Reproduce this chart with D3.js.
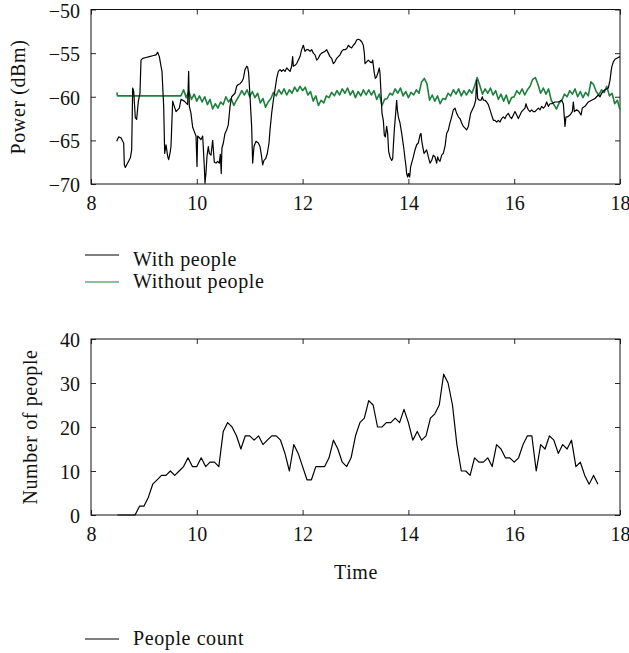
<!DOCTYPE html>
<html lang="en">
<head>
<meta charset="UTF-8">
<title>Received power and people count</title>
<script src="https://d3js.org/d3.v7.min.js"></script>
<style>
  body { margin: 0; background: #fff; }
  svg { display: block; font-family: "Liberation Serif", "Times New Roman", serif; }
  .lbl { font-family: "Liberation Serif", "Times New Roman", serif; font-size: 20px; letter-spacing: 0.6px; fill: #111; }
  .tick-lbl { font-family: "Liberation Serif", "Times New Roman", serif; font-size: 20px; fill: #111; }
</style>
</head>
<body>
<svg id="chart" width="629" height="653"></svg>
<script>
// ---- data ----
const timeTicks = [8, 10, 12, 14, 16, 18];
const powerTicks = [-70, -65, -60, -55, -50];
const countTicks = [0, 10, 20, 30, 40];

// received power with people present, [hour, dBm]
const withPeople = [
  [8.485,-65.1],[8.523,-64.6],[8.567,-64.7],[8.599,-65.1],[8.618,-65.3],[8.630,-67.8],[8.649,-68.1],
  [8.693,-67.6],[8.744,-67.0],[8.769,-66.1],[8.788,-59.0],[8.807,-59.4],[8.838,-62.4],[8.863,-62.6],
  [8.895,-60.5],[8.926,-59.6],[8.945,-55.8],[8.977,-55.6],[9.040,-55.5],[9.103,-55.4],[9.166,-55.3],
  [9.229,-55.2],[9.260,-54.9],[9.292,-55.4],[9.323,-56.5],[9.342,-57.1],[9.374,-61.1],[9.393,-66.5],
  [9.418,-65.5],[9.449,-66.8],[9.468,-67.2],[9.493,-66.5],[9.512,-65.7],[9.544,-60.5],[9.575,-61.1],
  [9.607,-61.7],[9.638,-61.5],[9.670,-61.3],[9.701,-60.3],[9.764,-60.5],[9.796,-60.7],[9.827,-60.9],
  [9.846,-57.1],[9.859,-61.1],[9.890,-61.9],[9.922,-63.5],[9.953,-64.0],[9.985,-64.5],[10.004,-68.0],
  [10.016,-64.5],[10.048,-64.7],[10.079,-64.9],[10.111,-64.5],[10.142,-68.0],[10.155,-69.9],[10.174,-68.7],
  [10.193,-66.8],[10.218,-65.7],[10.237,-66.5],[10.268,-66.7],[10.300,-65.0],[10.331,-67.5],[10.363,-67.6],
  [10.394,-67.4],[10.426,-67.6],[10.445,-66.6],[10.462,-68.8],[10.475,-65.9],[10.502,-65.3],[10.533,-64.2],
  [10.565,-63.8],[10.596,-63.2],[10.628,-61.1],[10.659,-60.0],[10.690,-59.8],[10.722,-59.6],[10.753,-58.8],
  [10.785,-58.6],[10.817,-58.5],[10.848,-58.3],[10.880,-57.9],[10.911,-56.9],[10.943,-56.5],[10.961,-56.6],
  [10.980,-57.3],[11.006,-60.0],[11.037,-63.4],[11.056,-67.6],[11.081,-65.7],[11.119,-65.1],[11.163,-65.3],
  [11.195,-65.7],[11.226,-66.9],[11.245,-67.8],[11.270,-67.3],[11.302,-67.1],[11.333,-66.5],[11.365,-65.3],
  [11.384,-63.8],[11.415,-61.9],[11.447,-60.4],[11.478,-59.2],[11.510,-57.9],[11.541,-57.1],[11.573,-56.9],
  [11.604,-57.1],[11.636,-56.9],[11.667,-57.1],[11.699,-56.7],[11.730,-56.9],[11.762,-57.1],[11.793,-56.5],
  [11.812,-55.4],[11.825,-56.5],[11.856,-56.4],[11.888,-56.2],[11.951,-55.4],[11.982,-54.6],[12.014,-54.1],
  [12.045,-54.8],[12.077,-54.6],[12.108,-54.6],[12.140,-54.8],[12.171,-54.6],[12.203,-55.0],[12.235,-55.2],
  [12.266,-55.8],[12.297,-55.6],[12.329,-55.2],[12.360,-55.0],[12.392,-54.9],[12.423,-54.8],[12.455,-54.6],
  [12.486,-55.0],[12.518,-55.4],[12.549,-55.6],[12.581,-56.2],[12.612,-56.0],[12.644,-55.6],[12.675,-55.4],
  [12.707,-55.2],[12.738,-54.8],[12.770,-54.6],[12.801,-54.6],[12.833,-54.5],[12.864,-54.1],[12.896,-54.3],
  [12.927,-54.4],[12.959,-54.1],[12.990,-53.9],[13.022,-53.5],[13.054,-53.4],[13.085,-53.5],[13.117,-53.7],
  [13.148,-54.1],[13.167,-55.0],[13.180,-56.2],[13.211,-56.0],[13.242,-55.8],[13.274,-56.0],[13.306,-56.1],
  [13.325,-55.8],[13.337,-56.4],[13.356,-57.3],[13.375,-57.9],[13.400,-57.7],[13.432,-57.1],[13.450,-56.7],
  [13.463,-57.3],[13.482,-59.6],[13.501,-61.9],[13.526,-62.7],[13.545,-64.4],[13.564,-64.6],[13.589,-63.4],
  [13.608,-64.2],[13.627,-66.3],[13.652,-66.9],[13.684,-67.3],[13.703,-67.1],[13.715,-65.7],[13.734,-63.8],
  [13.759,-61.9],[13.778,-60.4],[13.791,-61.5],[13.810,-62.3],[13.841,-63.0],[13.873,-64.2],[13.892,-65.0],
  [13.917,-66.1],[13.936,-67.1],[13.955,-68.0],[13.967,-68.8],[13.986,-69.2],[14.005,-68.8],[14.024,-69.2],
  [14.043,-68.0],[14.062,-67.6],[14.093,-66.9],[14.125,-66.1],[14.156,-65.5],[14.188,-65.3],[14.219,-64.4],
  [14.238,-64.2],[14.251,-65.0],[14.270,-65.7],[14.295,-66.5],[14.320,-66.3],[14.345,-66.1],[14.377,-66.9],
  [14.408,-67.6],[14.440,-67.3],[14.471,-66.7],[14.503,-66.9],[14.534,-67.6],[14.553,-66.9],[14.572,-67.2],
  [14.597,-67.4],[14.629,-66.7],[14.660,-66.5],[14.692,-65.7],[14.723,-64.2],[14.755,-63.8],[14.786,-63.0],
  [14.818,-62.3],[14.849,-61.5],[14.881,-61.3],[14.912,-61.9],[14.944,-62.3],[14.975,-62.5],[15.007,-63.0],
  [15.038,-63.4],[15.070,-63.6],[15.101,-63.8],[15.133,-63.4],[15.152,-62.7],[15.177,-61.9],[15.208,-61.5],
  [15.240,-61.1],[15.272,-60.4],[15.290,-58.1],[15.309,-60.2],[15.341,-60.4],[15.372,-60.4],[15.398,-60.0],
  [15.417,-60.4],[15.448,-60.4],[15.479,-60.6],[15.511,-60.9],[15.543,-61.5],[15.574,-62.1],[15.606,-62.7],
  [15.637,-62.7],[15.668,-62.9],[15.700,-62.7],[15.732,-62.9],[15.763,-62.5],[15.795,-62.3],[15.826,-62.5],
  [15.858,-62.1],[15.889,-61.9],[15.921,-62.3],[15.952,-62.5],[15.984,-62.1],[16.015,-61.7],[16.047,-62.1],
  [16.078,-62.5],[16.110,-62.1],[16.141,-61.7],[16.173,-61.5],[16.204,-61.3],[16.223,-60.8],[16.236,-61.1],
  [16.267,-61.5],[16.299,-61.7],[16.330,-61.5],[16.362,-61.7],[16.393,-61.7],[16.425,-61.5],[16.456,-61.3],
  [16.488,-61.5],[16.519,-61.1],[16.551,-61.3],[16.582,-61.1],[16.614,-60.6],[16.645,-61.1],[16.677,-60.8],
  [16.708,-60.8],[16.771,-60.6],[16.834,-60.6],[16.897,-60.4],[16.929,-60.8],[16.960,-63.4],[16.979,-62.3],
  [17.011,-62.3],[17.055,-62.1],[17.099,-61.7],[17.118,-60.6],[17.137,-61.7],[17.181,-61.5],[17.225,-61.7],
  [17.263,-62.1],[17.288,-61.3],[17.338,-61.1],[17.401,-60.6],[17.464,-60.4],[17.527,-60.2],[17.590,-59.8],
  [17.622,-60.0],[17.653,-59.6],[17.716,-59.2],[17.779,-59.0],[17.811,-58.1],[17.843,-56.6],[17.874,-56.0],
  [17.905,-55.7],[17.968,-55.5],[18.000,-55.4]
];

// received power without people: flat start, then sampled every 0.05 h from 9.70 h
const withoutStart = [[8.49,-59.5],[8.50,-59.9]];
const withoutT0 = 9.70, withoutStep = 0.05;
const withoutPeople = [
  -59.9,-59.2,-60.1,-59.4,-60.3,-59.7,-60.5,-59.9,-60.6,-60.0,
  -60.9,-60.3,-61.4,-60.8,-61.3,-60.6,-60.9,-60.0,-60.6,-60.2,
  -61.0,-60.4,-59.9,-59.3,-59.8,-59.2,-60.0,-59.4,-60.1,-59.6,
  -60.7,-60.2,-61.2,-60.6,-60.2,-59.5,-59.9,-59.2,-59.7,-59.1,
  -59.8,-59.2,-59.6,-58.9,-59.4,-58.8,-59.3,-58.9,-59.8,-59.4,
  -60.5,-59.9,-61.0,-60.4,-60.7,-59.9,-60.1,-59.5,-59.9,-59.3,
  -59.8,-59.1,-59.6,-59.0,-59.8,-59.3,-60.1,-59.4,-59.9,-59.2,
  -59.8,-59.2,-59.8,-59.3,-60.3,-59.7,-61.0,-60.3,-60.2,-59.6,
  -59.8,-59.1,-59.6,-59.0,-59.9,-59.4,-60.1,-59.5,-59.8,-59.2,
  -59.6,-58.3,-57.9,-58.5,-60.4,-59.8,-60.5,-59.9,-60.8,-60.2,
  -60.3,-59.6,-59.9,-59.2,-59.7,-59.1,-59.9,-59.3,-59.8,-59.2,
  -59.6,-58.8,-57.8,-58.7,-59.7,-59.1,-59.6,-59.0,-59.8,-59.3,
  -60.3,-59.7,-60.5,-59.8,-60.8,-60.1,-60.0,-59.3,-59.7,-59.1,
  -59.8,-59.2,-58.8,-58.0,-57.8,-58.6,-59.6,-59.0,-59.7,-59.1,
  -60.4,-60.9,-61.4,-60.7,-60.4,-59.7,-60.0,-59.3,-59.7,-59.1,
  -60.0,-59.4,-60.1,-59.5,-59.9,-58.3,-58.6,-59.4,-59.8,-59.2,
  -59.5,-58.8,-59.9,-59.6,-60.8,-60.4,-61.5
];

// people count, every 5 minutes from 8.5 h
const countT0 = 8.5, countStep = 5 / 60;
const peopleCount = [
  0,0,0,0,0,2,2,4,7,8,9,9,10,9,10,11,13,11,11,13,
  11,12,12,11,19,21,20,18,15,18,18,17,18,16,17,18,18,17,14,10,
  16,14,11,8,8,11,11,11,13,17,15,12,11,13,18,21,22,26,25,20,
  20,21,21,22,21,24,21,17,19,17,18,22,23,25,32,30,25,16,10,10,
  9,13,12,12,13,11,16,15,13,13,12,13,16,18,18,10,16,15,18,17,
  14,16,15,17,11,12,9,7,9,7
];

const GREEN = "#1c803c";

const svg = d3.select("#chart");
svg.append("rect").attr("width", 629).attr("height", 653).attr("fill", "#fff");

const x = d3.scaleLinear().domain([8, 18]).range([91, 620]);
const yPow = d3.scaleLinear().domain([-70, -50]).range([184, 9.5]);
const yCnt = d3.scaleLinear().domain([0, 40]).range([515, 339]);

function panel(y, yTicks) {
  const top = y.range()[1], bottom = y.range()[0];
  const g = svg.append("g");

  const styleAxis = a => {
    a.attr("font-family", null).attr("font-size", null);
    a.select(".domain").remove();
    a.selectAll("line").attr("stroke", "#111").attr("stroke-width", 0.9);
    a.selectAll("text").attr("class", "tick-lbl");
  };

  g.append("g").attr("transform", `translate(0,${bottom})`)
    .call(d3.axisBottom(x).tickValues(timeTicks).tickSize(-5).tickPadding(12).tickFormat(d3.format("d")))
    .call(styleAxis);
  g.append("g").attr("transform", `translate(0,${top})`)
    .call(d3.axisTop(x).tickValues(timeTicks).tickSize(-5).tickFormat(""))
    .call(styleAxis);
  g.append("g").attr("transform", `translate(${x.range()[0]},0)`)
    .call(d3.axisLeft(y).tickValues(yTicks).tickSize(-5).tickPadding(11).tickFormat(d3.format("d")))
    .call(styleAxis)
    .selectAll("text").attr("dy", "0.38em");
  g.append("g").attr("transform", `translate(${x.range()[1]},0)`)
    .call(d3.axisRight(y).tickValues(yTicks).tickSize(-5).tickFormat(""))
    .call(styleAxis);

  g.append("rect")
    .attr("x", x.range()[0]).attr("y", top)
    .attr("width", x.range()[1] - x.range()[0]).attr("height", bottom - top)
    .attr("fill", "none").attr("stroke", "#111").attr("stroke-width", 1);
  return g;
}

// ---- top panel: power ----
const gTop = panel(yPow, powerTicks);
const powLine = d3.line().x(d => x(d[0])).y(d => yPow(d[1]));

const quietSeries = withoutStart.concat(withoutPeople.map((v, i) => [withoutT0 + i * withoutStep, v]));

gTop.append("path").datum(quietSeries)
  .attr("d", powLine).attr("fill", "none")
  .attr("stroke", GREEN).attr("stroke-width", 1.6).attr("stroke-linejoin", "round");
gTop.append("path").datum(withPeople)
  .attr("d", powLine).attr("fill", "none")
  .attr("stroke", "#000").attr("stroke-width", 1.2).attr("stroke-linejoin", "round");

svg.append("text").attr("class", "lbl")
  .attr("transform", "translate(25,97) rotate(-90)")
  .attr("text-anchor", "middle").text("Power (dBm)");

// ---- bottom panel: people ----
const gBot = panel(yCnt, countTicks);
gBot.append("path")
  .datum(peopleCount.map((v, i) => [countT0 + i * countStep, v]))
  .attr("d", d3.line().x(d => x(d[0])).y(d => yCnt(d[1])))
  .attr("fill", "none").attr("stroke", "#000").attr("stroke-width", 1.2)
  .attr("stroke-linejoin", "round");

svg.append("text").attr("class", "lbl")
  .attr("transform", "translate(37,427) rotate(-90)")
  .attr("text-anchor", "middle").text("Number of people");

svg.append("text").attr("class", "lbl")
  .attr("x", 356).attr("y", 579).attr("text-anchor", "middle").text("Time");

// ---- legends ----
const legends = [
  { label: "With people", color: "#000", ly: 255, ty: 266 },
  { label: "Without people", color: GREEN, ly: 282, ty: 288 },
  { label: "People count", color: "#000", ly: 639, ty: 645 }
];
legends.forEach(l => {
  svg.append("line").attr("x1", 85).attr("x2", 119).attr("y1", l.ly).attr("y2", l.ly)
    .attr("stroke", l.color).attr("stroke-width", 1.2);
  svg.append("text").attr("class", "lbl").attr("x", 133).attr("y", l.ty).text(l.label);
});
</script>
</body>
</html>
